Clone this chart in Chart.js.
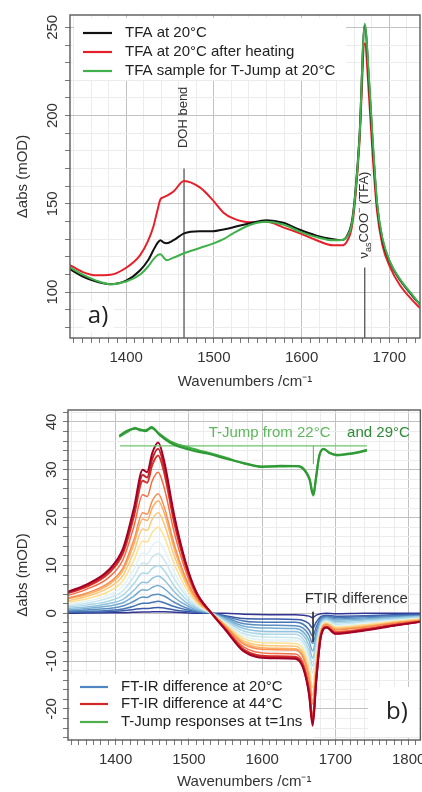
<!DOCTYPE html>
<html><head><meta charset="utf-8">
<script src="https://cdn.jsdelivr.net/npm/chart.js@4.4.1/dist/chart.umd.min.js"></script>
<style>
html,body{margin:0;padding:0;background:#fff;}
#wa{position:absolute;left:0;top:0;width:422px;height:395px;}
#wb{position:absolute;left:0;top:395px;width:422px;height:397px;}
</style></head><body>
<div id="wa"><canvas id="ca" width="422" height="395"></canvas></div>
<div id="wb"><canvas id="cb" width="422" height="397"></canvas></div>
<script>
// ---------- Panel a data ----------
const wnA = [1336,1350,1366,1382,1400,1416,1425,1431,1436,1439,1443,1446,1454,1466,1484,1499,1511,1522,1541,1560,1579,1598,1617,1636,1646,1652,1657,1661,1666,1672,1677,1681,1686,1692,1701,1712,1727,1735];
const tfa20 = [113,109,106,104.5,106.5,112.4,118,123.7,128,129.4,128,127.7,129.4,133.3,134.5,134.5,135.5,136.7,139,140.7,139.3,135.3,132,130,129.5,132,139,155,188,251,218,185,150,130,116.5,107,97.5,93];
const tfaHeated = [115.3,111.5,109.5,109.8,113.8,121,129,137,147,152.5,153.8,154.5,157,163,159.3,152,145,141.8,139.6,139.8,136.7,133.3,129.4,126.5,126.5,129,136,152,185,241,210,178,146,127,114,104,95,91];
const tfaTJump = [114,110,106.5,104.5,106,110,114.5,118.5,121,121.5,119.5,118,119.5,122,125,127.5,130,133.3,138,139.8,138.3,134.3,131.2,129.4,129.5,131.5,138,154,187,252,220,187,151,131,117,107.5,98,93];
const dohLineX = [1466,1466], dohLineY = [74,170];
const cooLineX = [1672,1672], cooLineY = [74,114];

// ---------- Panel b data ----------
const wnB = [1335,1360,1390,1410,1425,1437,1443,1450,1458,1466,1480,1495,1510,1531,1550,1575,1610,1645,1656,1664,1669,1674,1680,1688,1700,1740,1780,1816];
const ftir01 = [0,0.05,0.1,0.1,0.2,0.25,0.25,0.3,0.3,0.3,0.2,0.1,0,0,0,-0.2,-0.3,-0.3,-0.4,-0.6,-0.9,-0.4,-0.1,0,-0.1,0,0,0];
const ftir02 = [0.2,0.2,0.3,0.5,0.8,1.0,1.0,1.1,1.2,1.1,0.7,0.4,0.2,0,-0.5,-1.1,-1.2,-1.3,-1.5,-2.2,-3.1,-1.8,-0.7,-0.4,-0.6,-0.5,-0.3,-0.2];
const ftir03 = [0.3,0.4,0.6,0.9,1.5,2.1,2.1,2.3,2.5,2.2,1.4,0.8,0.3,0,-0.7,-1.6,-1.9,-1.9,-2.3,-3.5,-4.8,-2.8,-1.0,-0.6,-0.9,-0.7,-0.5,-0.4];
const ftir04 = [0.5,0.7,1.0,1.5,2.5,3.4,3.3,3.8,4.0,3.6,2.3,1.2,0.5,0,-0.9,-2.2,-2.5,-2.6,-3.1,-4.6,-6.3,-3.8,-1.3,-0.8,-1.2,-1.0,-0.7,-0.5];
const ftir05 = [0.7,1.0,1.5,2.2,3.6,4.9,4.8,5.4,5.8,5.2,3.3,1.8,0.7,0,-1.2,-2.7,-3.1,-3.2,-3.9,-5.7,-7.9,-4.7,-1.7,-1.0,-1.4,-1.2,-0.9,-0.6];
const ftir06 = [1.0,1.3,2.0,2.9,4.8,6.5,6.4,7.3,7.8,7.0,4.5,2.4,1.0,0,-1.4,-3.2,-3.8,-3.8,-4.6,-6.8,-9.4,-5.6,-2.0,-1.2,-1.7,-1.4,-1.0,-0.7];
const ftir07 = [1.3,1.7,2.5,3.8,6.2,8.4,8.3,9.4,10.0,9.0,5.7,3.1,1.3,0,-1.6,-3.7,-4.4,-4.4,-5.4,-7.9,-11.0,-6.5,-2.3,-1.4,-2.0,-1.7,-1.2,-0.8];
const ftir08 = [1.6,2.1,3.2,4.7,7.7,10.5,10.3,11.7,12.5,11.2,7.2,3.9,1.6,0,-1.9,-4.3,-5.0,-5.1,-6.1,-9.0,-12.5,-7.4,-2.7,-1.6,-2.3,-1.9,-1.4,-1.0];
const ftir09 = [1.9,2.5,3.8,5.7,9.2,12.6,12.4,14.1,15.0,13.4,8.6,4.6,1.9,0,-2.1,-4.8,-5.6,-5.6,-6.8,-10.1,-14.0,-8.3,-3.0,-1.8,-2.6,-2.1,-1.5,-1.1];
const ftir10 = [2.3,3.0,4.5,6.8,11.1,15.1,14.9,16.9,18.0,16.1,10.3,5.5,2.3,0,-2.3,-5.3,-6.2,-6.3,-7.6,-11.3,-15.6,-9.3,-3.3,-2.0,-2.9,-2.4,-1.7,-1.2];
const ftir11 = [2.6,3.5,5.3,7.9,12.9,17.6,17.3,19.7,21.0,18.8,12.0,6.5,2.6,0,-2.5,-5.8,-6.8,-6.9,-8.4,-12.4,-17.1,-10.2,-3.6,-2.2,-3.1,-2.6,-1.9,-1.3];
const ftir12 = [3.0,3.9,5.9,8.9,14.5,19.7,19.4,22.0,23.5,21.1,13.5,7.2,3.0,0,-2.7,-6.2,-7.3,-7.4,-8.9,-13.2,-18.3,-10.9,-3.9,-2.3,-3.3,-2.8,-2.0,-1.4];
const ftir13 = [3.2,4.2,6.3,9.5,15.4,21.0,20.7,23.5,25.0,22.4,14.4,7.7,3.2,0,-2.8,-6.5,-7.6,-7.7,-9.3,-13.7,-19.0,-11.3,-4.0,-2.4,-3.5,-2.9,-2.1,-1.5];
const ftir14 = [3.7,5.0,7.4,11.2,18.2,24.8,24.4,27.7,29.5,26.4,16.9,9.1,3.7,0,-3.1,-7.1,-8.4,-8.5,-10.3,-15.2,-21.0,-12.5,-4.5,-2.7,-3.8,-3.2,-2.3,-1.6];
const ftir15 = [4.2,5.5,8.3,12.5,20.3,27.7,27.3,31.0,33.0,29.6,18.9,10.2,4.2,0,-3.3,-7.6,-9.0,-9.1,-11.0,-16.2,-22.4,-13.4,-4.8,-2.9,-4.1,-3.4,-2.5,-1.7];
const ftir16 = [4.3,5.8,8.7,13.0,21.2,28.9,28.4,32.3,34.4,30.8,19.7,10.6,4.3,0,-3.4,-7.8,-9.2,-9.3,-11.2,-16.6,-23.0,-13.7,-4.9,-2.9,-4.2,-3.5,-2.5,-1.8];
const ftir17 = [4.5,6.0,9.0,13.5,22.0,30.0,29.5,33.5,35.7,32.0,20.5,11.0,4.5,0,-3.5,-8.0,-9.4,-9.5,-11.5,-17.0,-23.5,-14.0,-5.0,-3.0,-4.3,-3.6,-2.6,-1.8];

const wnTJ = [1405,1415,1427,1434,1441,1449,1460,1474,1487,1501,1515,1528,1551,1578,1600,1625,1650,1660,1665,1668,1670,1673,1678,1684,1692,1702,1715,1728,1743];
const tjump22 = [36.9,37.8,38.8,38.2,38.3,38.7,37.5,36.0,35.2,34.6,34.0,33.5,32.5,31.2,30.7,30.7,30.8,29.6,28.0,25.8,24.6,27.5,32.8,34.3,33.6,33.0,33.2,33.5,34.0];
const tjump29 = [37.1,38.1,38.6,38.4,38.1,38.9,37.3,35.7,34.8,34.2,33.7,33.3,32.3,31.3,30.6,30.8,30.7,29.4,27.8,25.4,24.8,27.8,33.0,34.4,33.5,33.1,33.3,33.6,34.2];
const tjBaseX = [1406,1743], tjBaseY = [35,35];
const tjMarkX = [1670,1670], tjMarkY = [35,31.2];
const ftirMarkX = [1669.5,1669.5], ftirMarkY = [0.3,-6];

// ---------- styling ----------
const FONT = '"Liberation Sans", Arial, sans-serif';
const ftirColors = ['#313695','#3a5aa8','#4575b4','#5a8ec3','#74add1','#91c3de','#abd9e9','#c9e6ef','#e0f3f8','#fee090','#fdc878','#fdae61','#f88f52','#f46d43','#d73027','#c1272d','#a50026'];
const ftirSeries = [ftir01,ftir02,ftir03,ftir04,ftir05,ftir06,ftir07,ftir08,ftir09,ftir10,ftir11,ftir12,ftir13,ftir14,ftir15,ftir16,ftir17];

const pts = (xs, ys) => xs.map((x, i) => ({x: x, y: ys[i]}));
function line(xs, ys, color, w, extra) {
  return Object.assign({data: pts(xs, ys), borderColor: color, borderWidth: w, pointRadius: 0,
    cubicInterpolationMode: 'monotone', fill: false}, extra || {});
}

function xAxis(min, max, titleBottomPad, xh) {
  return {
    type: 'linear', min: min, max: max,
    afterFit: s => { s.height = xh; },
    border: {display: false},
    ticks: {stepSize: 10, autoSkip: false, maxRotation: 0, minRotation: 0, includeBounds: false,
      padding: 6, color: '#333', font: {family: FONT, size: 15},
      callback: v => (Math.round(v) % 100 === 0 ? String(v) : '')},
    grid: {
      color: c => { const v = Math.round(c.tick.value); return v % 100 === 0 ? '#c2c2c2' : (v % 20 === 0 ? '#ececec' : 'rgba(0,0,0,0)'); },
      lineWidth: 1, tickLength: 5, tickColor: '#777'
    },
    title: {display: true, text: 'Wavenumbers /cm⁻¹', color: '#333', font: {family: FONT, size: 15},
      padding: {top: 0, bottom: titleBottomPad}}
  };
}
function yAxis(min, max, step, major, yw) {
  return {
    type: 'linear', min: min, max: max,
    afterFit: s => { s.width = yw; },
    border: {display: false},
    ticks: {stepSize: step, autoSkip: false, includeBounds: false, minRotation: 90, maxRotation: 90,
      crossAlign: 'center', padding: 0, color: '#333', font: {family: FONT, size: 15},
      callback: v => (Math.round(v) % major === 0 ? String(Math.round(v)) : '')},
    grid: {
      color: c => { const v = Math.round(c.tick.value); return v % major === 0 ? '#c2c2c2' : '#ececec'; },
      lineWidth: 1, tickLength: 5, tickColor: '#777'
    },
    title: {display: true, text: 'Δabs (mOD)', color: '#333', font: {family: FONT, size: 15},
      padding: {top: 14, bottom: 0}}
  };
}

function frame(ch) {
  const a = ch.chartArea, c = ch.ctx;
  c.save(); c.strokeStyle = '#5a5a5a'; c.lineWidth = 1.4;
  c.strokeRect(a.left, a.top, a.right - a.left, a.bottom - a.top); c.restore();
}
function txt(c, s, x, y, font, color, align, rot) {
  c.save(); c.translate(x, y); if (rot) c.rotate(rot);
  c.font = font; c.fillStyle = color; c.textAlign = align || 'left'; c.textBaseline = 'middle';
  c.fillText(s, 0, 0); c.restore();
}
function legendRow(c, x1, x2, y, color, label) {
  c.save(); c.strokeStyle = color; c.lineWidth = 2.2;
  c.beginPath(); c.moveTo(x1, y); c.lineTo(x2, y); c.stroke(); c.restore();
  txt(c, label, x2 + 13, y, '15px ' + FONT, '#222', 'left');
}

// ---------- Panel a ----------
const plugA = {
  id: 'plugA',
  beforeDatasetsDraw(ch) {
    const c = ch.ctx; c.save(); c.fillStyle = '#fff';
    c.fillRect(74, 18, 272, 62);
    c.fillRect(84, 302, 30, 30);
    c.restore();
  },
  afterDatasetsDraw(ch) {
    const c = ch.ctx, xs = ch.scales.x, ys = ch.scales.y;
    frame(ch);
    legendRow(c, 83, 112, 33, '#111', 'TFA at 20°C');
    legendRow(c, 83, 112, 52, '#e5202a', 'TFA at 20°C after heating');
    legendRow(c, 83, 112, 71, '#3fb04a', 'TFA sample for T-Jump at 20°C');
    txt(c, 'DOH bend', xs.getPixelForValue(1466) - 1, ys.getPixelForValue(199), '13px ' + FONT, '#333', 'center', -Math.PI / 2);
    const x0 = xs.getPixelForValue(1672) - 1.5, y0 = ys.getPixelForValue(119);
    c.save(); c.translate(x0, y0); c.rotate(-Math.PI / 2);
    c.fillStyle = '#333'; c.textAlign = 'left'; c.textBaseline = 'alphabetic';
    let p = 0; const b = 4.5;
    c.font = '13px ' + FONT; c.fillText('ν', p, b); p += c.measureText('ν').width;
    c.font = '9px ' + FONT; c.fillText('as', p, b + 3); p += c.measureText('as').width;
    c.font = '13px ' + FONT; c.fillText('COO', p, b); p += c.measureText('COO').width;
    c.font = '9px ' + FONT; c.fillText('−', p, b - 6); p += c.measureText('−').width;
    c.font = '13px ' + FONT; c.fillText(' (TFA)', p, b);
    c.restore();
    txt(c, 'a)', 98, 316, '24px "Open Sans", sans-serif', '#222', 'center');
  }
};

new Chart(document.getElementById('ca'), {
  type: 'line',
  data: {datasets: [
    line(wnA, tfaTJump, '#3fb04a', 2),
    line(wnA, tfa20, '#111', 2),
    line(wnA, tfaHeated, '#e5202a', 2),
    line(dohLineX, dohLineY, '#555', 1.3, {cubicInterpolationMode: 'default', tension: 0}),
    line(cooLineX, cooLineY, '#555', 1.3, {cubicInterpolationMode: 'default', tension: 0})
  ]},
  options: {
    responsive: false, animation: false, devicePixelRatio: 1,
    layout: {padding: {left: 0, right: 2, top: 15, bottom: 0}},
    plugins: {legend: {display: false}, tooltip: {enabled: false}},
    scales: {x: xAxis(1336, 1735, 4, 57), y: yAxis(74, 257, 10, 50, 70)}
  },
  plugins: [plugA]
});

// ---------- Panel b ----------
const plugB = {
  id: 'plugB',
  beforeDatasetsDraw(ch) {
    const c = ch.ctx; c.save(); c.fillStyle = '#fff';
    c.fillRect(70, 279, 243, 64);
    c.fillRect(368, 292, 51, 50);
    c.restore();
  },
  afterDatasetsDraw(ch) {
    const c = ch.ctx, xs = ch.scales.x, ys = ch.scales.y;
    frame(ch);
    legendRow(c, 80, 108, 292, '#4f86c6', 'FT-IR difference at 20°C');
    legendRow(c, 80, 108, 309, '#d62728', 'FT-IR difference at 44°C');
    legendRow(c, 80, 108, 327, '#4daf4a', 'T-Jump responses at t=1ns');
    txt(c, 'FTIR difference', xs.getPixelForValue(1658), ys.getPixelForValue(3.1), '15px ' + FONT, '#333', 'left');
    txt(c, 'T-Jump from 22°C', xs.getPixelForValue(1527), ys.getPixelForValue(37.7), '15px ' + FONT, '#5cb85c', 'left');
    txt(c, 'and 29°C', xs.getPixelForValue(1716), ys.getPixelForValue(37.7), '15px ' + FONT, '#2e8b37', 'left');
    txt(c, 'b)', 397, 317, '24px "Open Sans", sans-serif', '#222', 'center');
  }
};

const dsB = [
  line(wnTJ, tjump29, '#2f9a35', 2.2),
  line(wnTJ, tjump22, '#45ad45', 2),
  line(tjBaseX, tjBaseY, '#6cc46c', 1.2, {cubicInterpolationMode: 'default', tension: 0}),
  line(tjMarkX, tjMarkY, '#6cc46c', 1.2, {cubicInterpolationMode: 'default', tension: 0}),
  line(ftirMarkX, ftirMarkY, '#333', 1, {cubicInterpolationMode: 'default', tension: 0})
];
for (let i = ftirSeries.length - 1; i >= 0; i--) {
  dsB.push(line(wnB, ftirSeries[i], ftirColors[i], i >= 14 ? 2 : 1.5));
}

new Chart(document.getElementById('cb'), {
  type: 'line',
  data: {datasets: dsB},
  options: {
    responsive: false, animation: false, devicePixelRatio: 1,
    layout: {padding: {left: 0, right: 1, top: 15, bottom: 0}},
    plugins: {legend: {display: false}, tooltip: {enabled: false}},
    scales: {x: xAxis(1335, 1816, 1, 52), y: yAxis(-26.5, 42.5, 2, 10, 68)}
  },
  plugins: [plugB]
});
</script>
</body></html>
